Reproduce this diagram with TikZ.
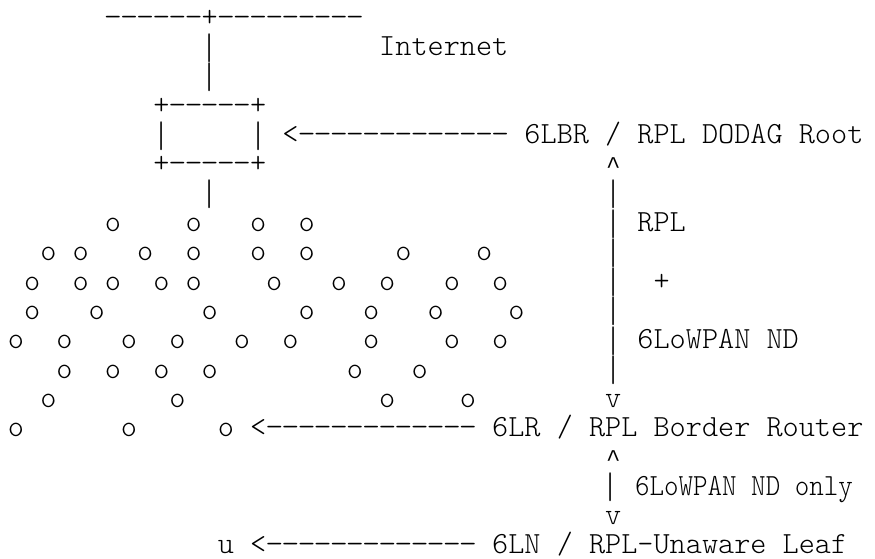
\documentclass[tikz,border=0pt]{standalone}
\usepackage{fontspec}
\newfontfamily\asciimono{lmmonolt10-regular.otf}
\newfontfamily\caretfont{Liberation Mono}
\newcommand\dd{\makebox[16.14pt][c]{\scalebox{1.12}[1]{-}}}
\newcommand\dfour{\dd\dd\dd\dd}
\newcommand\darrow{<\dfour\dfour\dfour\dd}
\newcommand\vbar{\makebox[16.14pt][c]{\raisebox{-3.5pt}[21pt][6pt]{\scalebox{1}[1.2]{|}}}}
\newcommand\caret{\makebox[16.14pt][c]{\caretfont\fontsize{24pt}{29pt}\selectfont\raisebox{-1pt}[18pt][0pt]{\char`\^}}}
\tikzset{
  chr/.style={anchor=base west, inner sep=0pt, outer sep=0pt,
    font=\asciimono\fontsize{30.74pt}{29.3pt}\selectfont, text=black}
}
\begin{document}
\begin{tikzpicture}
\useasboundingbox (0,0) rectangle (875pt,-558pt);
\begin{scope}[shift={(8pt,2.9pt)}, x=16.14pt, y=-29.3pt]
% backbone and root
\node[chr] (inet)  at (6,1)  {\dfour\dd\dd+\dfour\dfour\dd};
\node[chr] (up1)   at (12,2) {\vbar};
\node[chr] (inetl) at (23,2) {Internet};
\node[chr] (up2)   at (12,3) {\vbar};
\node[chr] (boxt)  at (9,4)  {+\dfour\dd+};
\node[chr] (boxl)  at (9,5)  {\vbar};
\node[chr] (boxr)  at (15,5) {\vbar};
\node[chr] (arr1)  at (17,5) {\darrow};
\node[chr] (lbr)   at (32,5) {6LBR / RPL DODAG Root};
\node[chr] (boxb)  at (9,6)  {+\dfour\dd+};
\node[chr] (hat1)  at (37,6) {\caret};
\node[chr] (dn1)   at (12,7) {\vbar};
% right-hand vertical
\foreach \r in {7,...,13} \node[chr] (bar\r) at (37,\r) {\vbar};
\node[chr] (rpl)   at (39,8)  {RPL};
\node[chr] (plus)  at (40,10) {+};
\node[chr] (nd)    at (39,12) {6LoWPAN ND};
\node[chr] (vee1)  at (37,14) {v};
% mesh nodes
\foreach \c in {6,11,15,18} \node[chr] (o8-\c) at (\c,8) {o};
\foreach \c in {2,4,8,11,15,18,24,29} \node[chr] (o9-\c) at (\c,9) {o};
\foreach \c in {1,4,6,9,11,16,20,23,27,30} \node[chr] (o10-\c) at (\c,10) {o};
\foreach \c in {1,5,12,18,22,26,31} \node[chr] (o11-\c) at (\c,11) {o};
\foreach \c in {0,3,7,10,14,17,22,27,30} \node[chr] (o12-\c) at (\c,12) {o};
\foreach \c in {3,6,9,12,21,25} \node[chr] (o13-\c) at (\c,13) {o};
\foreach \c in {2,10,23,28} \node[chr] (o14-\c) at (\c,14) {o};
\foreach \c in {0,7,13} \node[chr] (o15-\c) at (\c,15) {o};
% 6LR
\node[chr] (arr2)  at (15,15) {\darrow};
\node[chr] (lr)    at (30,15) {6LR / RPL Border Router};
\node[chr] (hat2)  at (37,16) {\caret};
\node[chr] (bar17) at (36.85,17) {\vbar};
\node[chr] (ndo)   at (38.85,17) {\scalebox{0.9}[1]{6LoWPAN ND only}};
\node[chr] (vee2)  at (37,18) {v};
% 6LN
\node[chr] (leaf)  at (13,19) {u};
\node[chr] (arr3)  at (15,19) {\darrow};
\node[chr] (ln)    at (30,19) {6LN / RPL-Unaware Leaf};
\end{scope}
\end{tikzpicture}
\end{document}
